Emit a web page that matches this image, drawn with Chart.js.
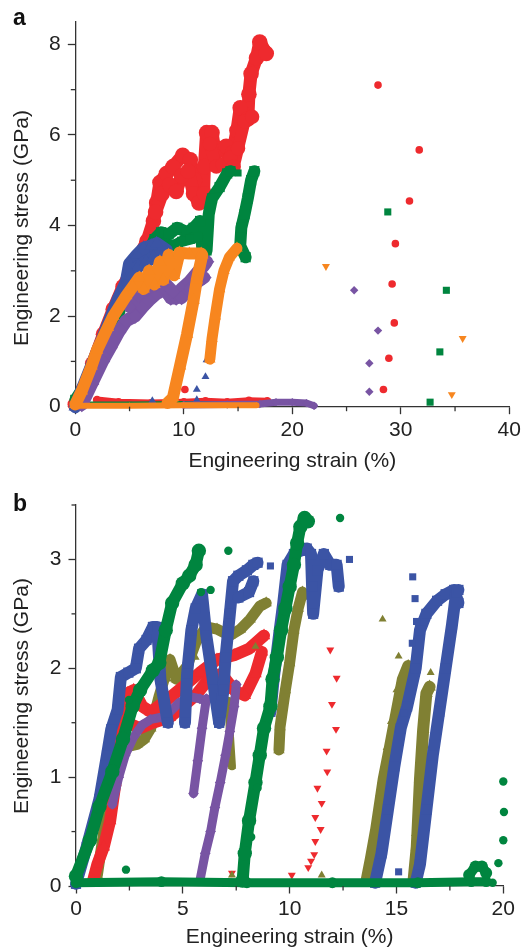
<!DOCTYPE html>
<html>
<head>
<meta charset="utf-8">
<script src="https://cdn.jsdelivr.net/npm/chart.js@4"></script>
<style>
body{margin:0;background:#fff;}
#wrap{position:relative;width:527px;height:951px;}
.panel{position:absolute;left:0;width:527px;}
.lab{position:absolute;left:13px;font:bold 23px "Liberation Sans",Arial,sans-serif;line-height:1;color:#111;}
</style>
</head>
<body>
<div id="wrap">
  <div class="panel" style="top:0;height:475px"><canvas id="chartA"></canvas></div>
  <div class="panel" style="top:475px;height:476px"><canvas id="chartB"></canvas></div>
  <div class="lab" style="top:6px">a</div>
  <div class="lab" style="top:492px">b</div>
</div>
<script>
const FONT = '"Liberation Sans", Arial, sans-serif';
const AXIS = '#333', TXT = '#222';
const RED = '#EE2A2E', GREEN = '#00853F', BLUE = '#3B54A5', ORANGE = '#F7861F', PURPLE = '#7854A3', OLIVE = '#808033';

// ---- panel a : strain (%) , stress (GPa)
const aXTicks = [0, 10, 20, 30, 40], aXMinor = [5, 15, 25, 35];
const aYTicks = [0, 2, 4, 6, 8], aYMinor = [1, 3, 5, 7];

const aRedLoad = [[0,0.05],[0.8,0.4],[1.6,0.95],[2.6,1.6],[3.5,2.15],[4.4,2.65],[5.4,3.1],[6.6,3.65],[7.2,4.1],[7.5,4.5],[7.8,4.95],[8.4,5.15],[9.0,5.3],[9.9,5.55],[10.6,5.45],[11.0,5.0],[11.3,4.65],[11.8,4.55],[11.9,5.3],[12.1,6.05],[12.6,6.05],[12.9,5.6],[13.3,5.7],[13.9,5.75],[14.2,5.3],[14.5,5.6],[14.9,6.1],[15.2,6.6],[15.9,6.35],[16.0,6.9],[16.2,7.35],[16.7,7.7],[17.0,8.05],[17.6,7.8]];
const aRedBlob = [[7.4,4.3],[8.0,4.7],[8.7,4.9],[9.3,4.75],[9.8,5.1],[10.4,5.2],[10.9,4.7],[11.4,4.5],[11.9,4.7]];
const aRedBlob2 = [[12.4,5.8],[13.0,5.3],[13.6,5.35],[14.3,5.5],[14.6,5.3],[15.0,5.7],[15.6,6.3],[16.3,6.4]];
const aRedBase = [[2.0,0.15],[4,0.1],[7,0.08],[10,0.1],[12,0.12],[14,0.1],[16,0.13],[17.7,0.12]];
const aRedPts = [[10.1,0.38],[27.9,7.1],[31.7,5.67],[30.8,4.54],[29.5,3.6],[29.2,2.71],[29.4,1.85],[28.9,1.07],[28.4,0.38]];

const aGreenLoad = [[0,0.15],[1.2,0.6],[2.3,1.1],[3.3,1.5],[4.3,2.3],[5.4,3.0],[6.6,3.35],[7.3,3.7],[7.9,3.85],[8.6,3.8],[9.4,3.95],[10.3,3.85],[10.9,3.95],[11.5,4.1],[11.7,3.5],[12.1,3.45],[12.3,4.25],[12.6,4.6],[13.3,4.85],[14.0,5.15],[14.3,5.2]];
const aGreenBlob = [[7.4,3.35],[8.2,3.6],[9.0,3.55],[9.8,3.65],[10.6,3.7],[11.3,3.75]];
const aGreenReload = [[15.7,3.3],[15.2,3.55],[15.3,3.95],[15.6,4.25],[15.9,4.6],[16.2,5.0],[16.5,5.2]];
const aGreenBase = [[0,0.05],[5,0.05],[10,0.06],[14,0.05]];
const aGreenPts = [[15.0,5.16],[28.8,4.3],[34.2,2.57],[33.6,1.21],[32.7,0.10]];

const aBlueLoad = [[0,0],[1.5,0.9],[3.0,1.8],[4.0,2.4],[4.7,2.75],[5.0,3.15],[5.7,3.35],[6.3,3.5],[7.0,3.55],[7.5,3.6],[8.4,3.45]];
const aBlueBlob = [[4.7,2.4],[5.2,2.9],[5.8,3.1],[6.5,3.2],[7.2,3.3],[7.9,3.3]];
const aBluePts = [[7.1,0.13],[11.2,0.38],[11.2,0.15],[12.0,0.66],[12.1,1.03]];

const aPurpleLoad = [[0.6,0.05],[1.5,0.5],[2.5,1.0],[3.2,1.3],[4.0,1.65],[4.7,1.9],[5.5,2.0],[6.2,2.2],[6.8,2.35],[7.5,2.5],[8.3,2.6],[8.8,2.4],[9.3,2.4],[9.8,2.6],[10.5,2.75],[11.2,2.95],[11.8,3.1],[12.1,3.2]];
const aPurpleBlob = [[5.0,2.2],[5.8,2.45],[6.6,2.6],[7.4,2.7],[8.2,2.75],[9.0,2.55],[9.8,2.4],[10.6,2.6],[11.3,2.75],[11.9,2.85]];
const aPurpleBase = [[10,0.04],[14,0.05],[17,0.06],[18.5,0.1],[20,0.1],[21.3,0.08],[22.0,0.02]];
const aPurplePts = [[25.7,2.57],[27.9,1.68],[27.1,0.96],[27.1,0.33]];

const aOrangeLoad = [[0,0.05],[0.6,0.35],[1.5,0.9],[2.0,1.25],[3.0,1.75],[3.5,2.0],[4.7,2.45],[5.3,2.65],[5.9,2.85],[6.3,2.6],[6.8,3.0],[7.3,2.7],[7.8,3.2],[8.1,2.8],[8.6,3.35],[9.1,2.9],[9.6,3.4],[10.5,3.38],[11.6,3.38]];
const aOrangeUnload = [[11.7,3.35],[11.2,2.8],[10.9,2.35],[10.3,1.6],[9.65,0.9],[9.0,0.2],[8.5,0.08]];
const aOrangeReload = [[12.4,1.05],[12.6,1.5],[12.9,2.0],[13.3,2.6],[13.7,3.0],[14.2,3.3],[14.9,3.5]];
const aOrangeBase = [[0,0.02],[5,0.02],[10,0.03],[16.7,0.03]];
const aOrangePts = [[23.1,3.1],[35.7,1.51],[34.7,0.27]];

// ---- panel b
const bXTicks = [0, 5, 10, 15, 20], bXMinor = [2.5, 7.5, 12.5, 17.5];
const bYTicks = [0, 1, 2, 3], bYMinor = [0.5, 1.5, 2.5, 3.5];

const bRedLoad = [[0.8,0.05],[1.0,0.2],[1.3,0.36],[1.6,0.6],[1.85,0.95],[2.05,1.3],[2.2,1.6],[2.4,1.77],[2.7,1.8],[3.1,1.65],[3.5,1.6],[4.2,1.7],[5.0,1.83],[5.8,1.96],[6.6,2.08],[7.4,2.12],[8.1,2.18],[8.8,2.3]];
const bRedBand = [[2.4,1.5],[3.0,1.45],[3.6,1.5],[4.4,1.55],[5.0,1.65],[5.6,1.75],[6.2,1.9],[6.8,1.95],[7.4,1.8],[7.9,1.75],[8.4,1.95],[8.7,2.15]];
const bRedPts = [[11.9,2.17],[12.2,1.91],[11.98,1.67],[12.17,1.44],[11.73,1.24],[11.76,1.05],[11.3,0.9],[11.5,0.76],[11.2,0.63],[11.45,0.52],[11.2,0.41],[11.15,0.29],[11.0,0.23],[10.87,0.17],[10.1,0.1],[7.3,0.12]];

const bOlive1 = [[1.0,0.1],[1.3,0.5],[1.6,0.98],[2.0,1.2],[2.4,1.28],[2.85,1.3],[3.2,1.35],[3.5,1.45],[3.9,1.75],[4.4,2.08],[4.7,1.9],[5.2,2.02],[5.65,2.26],[6.1,2.38],[6.6,2.36],[7.2,2.3],[7.7,2.36],[8.15,2.45],[8.6,2.57],[8.9,2.6]];
const bOlive2 = [[9.5,1.25],[9.55,1.46],[9.8,1.8],[10.0,2.05],[10.2,2.35],[10.4,2.55],[10.6,2.7]];
const bOlive3 = [[7.3,1.1],[7.2,1.4],[7.15,1.7]];
const bOlive4 = [[13.6,0.05],[13.8,0.25],[14.05,0.52],[14.4,0.98],[14.7,1.28],[15.0,1.59],[15.3,1.9],[15.55,2.02]];
const bOlive5 = [[15.8,0.05],[15.95,0.36],[16.1,0.98],[16.25,1.44],[16.4,1.77],[16.55,1.83]];
const bOlivePts = [[14.35,2.45],[15.1,2.11],[15.0,1.8],[14.74,1.51],[14.54,1.27],[14.46,1.04],[14.2,0.85],[14.15,0.68],[13.9,0.39],[13.76,0.18],[11.5,0.1],[16.6,1.96],[16.0,0.67],[15.87,0.48],[10.7,2.65],[7.3,0.1],[4.3,1.9],[5.6,2.1],[8.4,2.2]];

const bPurple1 = [[1.7,0.75],[2.0,1.0],[2.3,1.2],[2.7,1.37],[3.1,1.48],[3.5,1.53],[4.0,1.55],[4.4,1.6],[4.8,1.68],[5.3,1.74],[5.8,1.72],[6.1,1.7]];
const bPurple2 = [[6.1,1.72],[5.9,1.45],[5.7,1.15],[5.5,0.85]];
const bPurple3 = [[5.8,0.05],[6.05,0.3],[6.3,0.5],[6.5,0.72],[6.75,0.95],[7.0,1.2],[7.2,1.42],[7.4,1.65],[7.5,1.85]];

const bBlue1 = [[0,0.02],[0.5,0.36],[1.1,0.8],[1.45,1.2],[1.65,1.44],[1.95,1.62],[2.1,1.92],[2.45,1.96],[2.8,2.0],[2.95,2.18],[3.3,2.26],[3.6,2.38],[3.8,2.38],[3.95,1.9],[4.3,1.5]];
const bBlue2 = [[5.1,1.5],[5.2,1.95],[5.4,2.35],[5.6,2.55],[5.9,2.68],[6.1,2.3],[6.4,1.9],[6.7,1.5]];
const bBlue3 = [[6.7,1.5],[6.9,1.8],[7.0,2.1],[7.2,2.5],[7.35,2.8],[7.6,2.85],[8.0,2.9],[8.3,2.95],[8.5,2.97]];
const bBlue3b = [[7.6,2.65],[8.1,2.7],[8.3,2.8]];
const bBlue4 = [[9.1,1.6],[9.25,1.9],[9.5,2.3],[9.7,2.6],[9.9,2.95],[10.2,3.05],[10.5,3.08],[10.8,3.1],[11.0,3.05],[11.05,2.75],[11.1,2.5],[11.3,2.9],[11.6,3.05],[11.9,2.95],[12.2,2.95],[12.3,2.75]];
const bBlue5 = [[14.0,0.03],[14.3,0.3],[14.6,0.7],[14.9,1.1],[15.2,1.45],[15.5,1.65],[15.9,2.0],[16.1,2.35],[16.4,2.5],[16.9,2.62],[17.3,2.68],[17.7,2.72],[17.9,2.6]];
const bBlue6 = [[15.9,0.03],[16.1,0.2],[16.4,0.7],[16.7,1.2],[17.0,1.6],[17.3,2.0],[17.6,2.4],[17.8,2.7],[17.9,2.72]];
const bBluePts = [[9.1,2.94],[12.8,3.0],[15.76,2.84],[15.87,2.64],[15.94,2.43],[15.74,2.23],[15.35,1.59],[15.1,0.13]];

const bGreen1 = [[0,0.09],[0.65,0.42],[1.1,0.73],[1.7,1.05],[2.2,1.35],[2.65,1.65],[3.0,1.8],[3.6,1.98],[3.9,2.05],[4.2,2.35],[4.5,2.6],[5.0,2.78],[5.3,2.85],[5.6,2.95],[5.75,3.08]];
const bGreen2 = [[7.8,0.05],[7.9,0.3],[8.1,0.6],[8.4,0.95],[8.6,1.2],[8.8,1.45],[9.1,1.65],[9.2,1.9],[9.4,2.1],[9.6,2.35],[9.8,2.55],[10.0,2.75],[10.2,2.95],[10.35,3.15],[10.5,3.3],[10.7,3.38],[10.85,3.35]];
const bGreenBase = [[0,0.03],[4,0.04],[8,0.03],[12,0.03],[16,0.03],[18.5,0.04],[19.2,0.04]];
const bGreenBlob = [[18.4,0.1],[18.7,0.18],[19.0,0.18],[19.2,0.12]];
const bGreenPts = [[7.13,3.08],[2.34,0.15],[2.48,1.71],[12.36,3.38],[20.0,0.96],[20.03,0.68],[20.0,0.42],[19.77,0.21],[19.5,0.03],[6.3,2.72],[5.85,2.7],[1.4,0.9],[8.5,0.9],[8.2,0.45]];

function pts(arr) { return arr.map(([x, y]) => ({ x, y })); }

function band(arr, color, w, style) {
  return {
    data: pts(arr), showLine: true, borderColor: color, borderWidth: w,
    borderCapStyle: 'round', borderJoinStyle: 'round', tension: 0,
    pointRadius: w * 0.6, pointStyle: style, pointBackgroundColor: color, pointBorderWidth: 0,
    clip: false
  };
}

function marks(arr, color, style, r, rot) {
  return {
    data: pts(arr), showLine: false, pointStyle: style, pointRadius: r, pointRotation: rot || 0,
    pointBackgroundColor: color, pointBorderWidth: 0, clip: false
  };
}

// minor ticks are drawn with the chart's own scales
const minorTicks = {
  id: 'minorTicks',
  afterDraw(chart, args, o) {
    const ctx = chart.ctx, area = chart.chartArea;
    ctx.save();
    ctx.strokeStyle = AXIS; ctx.lineWidth = 1.3;
    o.x.forEach(v => {
      const p = chart.scales.x.getPixelForValue(v);
      ctx.beginPath(); ctx.moveTo(p, area.bottom); ctx.lineTo(p, area.bottom + 4.5); ctx.stroke();
    });
    o.y.forEach(v => {
      const p = chart.scales.y.getPixelForValue(v);
      ctx.beginPath(); ctx.moveTo(area.left, p); ctx.lineTo(area.left - 4.5, p); ctx.stroke();
    });
    ctx.restore();
  }
};

const yTitle = {
  id: 'yTitle',
  afterDraw(chart, args, o) {
    const ctx = chart.ctx;
    ctx.save();
    ctx.translate(o.x, o.y); ctx.rotate(-Math.PI / 2);
    ctx.font = '21px ' + FONT; ctx.fillStyle = TXT;
    ctx.textAlign = 'center'; ctx.textBaseline = 'middle';
    ctx.fillText(o.text, 0, 0);
    ctx.restore();
  }
};

function makeOptions(c) {
  const tickFont = { family: FONT, size: 21 };
  return {
    responsive: true, maintainAspectRatio: false, animation: false,
    layout: { padding: c.pad },
    plugins: {
      legend: { display: false }, tooltip: { enabled: false },
      minorTicks: { x: c.xMinor, y: c.yMinor },
      yTitle: { text: 'Engineering stress (GPa)', x: 22, y: c.yTitleY }
    },
    scales: {
      x: {
        type: 'linear', min: 0, max: c.xMax,
        afterBuildTicks: s => { s.ticks = c.xTicks.map(v => ({ value: v })); },
        afterFit: s => { s.height = c.xH; },
        grid: { drawOnChartArea: false, tickLength: 7.5, tickWidth: 1.3, tickColor: AXIS },
        border: { color: AXIS, width: 1.3 },
        ticks: { font: tickFont, color: TXT, padding: 3, maxRotation: 0, autoSkip: false },
        title: { display: true, text: 'Engineering strain (%)', font: tickFont, color: TXT, padding: { top: 0, bottom: 1 } }
      },
      y: {
        type: 'linear', min: 0, max: c.yMax,
        afterBuildTicks: s => { s.ticks = c.yTicks.map(v => ({ value: v })); },
        afterFit: s => { s.width = c.yW; },
        grid: { drawOnChartArea: false, tickLength: 7.5, tickWidth: 1.3, tickColor: AXIS },
        border: { color: AXIS, width: 1.3 },
        ticks: { font: tickFont, color: TXT, padding: 7, autoSkip: false }
      }
    }
  };
}

// bottom layer first, then reversed so the last one is drawn on top
const aSets = [
  band(aRedBase, RED, 7, 'circle'),
  band(aRedLoad, RED, 13, 'circle'),
  band(aRedBlob, RED, 13, 'circle'),
  band(aRedBlob2, RED, 12, 'circle'),
  marks(aRedPts, RED, 'circle', 3.8),
  band(aGreenBase, GREEN, 6, 'rect'),
  band(aGreenLoad, GREEN, 12, 'rect'),
  band(aGreenBlob, GREEN, 11, 'rect'),
  band(aGreenReload, GREEN, 12, 'rect'),
  marks(aGreenPts, GREEN, 'rect', 5),
  band(aBlueLoad, BLUE, 13, 'triangle'),
  band(aBlueBlob, BLUE, 13, 'triangle'),
  marks(aBluePts, BLUE, 'triangle', 4.6),
  band(aPurpleBase, PURPLE, 7, 'rectRot'),
  band(aPurpleLoad, PURPLE, 13, 'rectRot'),
  band(aPurpleBlob, PURPLE, 12, 'rectRot'),
  marks(aPurplePts, PURPLE, 'rectRot', 4.2),
  band(aOrangeBase, ORANGE, 6, 'triangle'),
  band(aOrangeLoad, ORANGE, 12, 'triangle'),
  band(aOrangeUnload, ORANGE, 12, 'triangle'),
  band(aOrangeReload, ORANGE, 11, 'triangle'),
  marks(aOrangePts, ORANGE, 'triangle', 4.6, 180)
].reverse();

const bSets = [
  band(bOlive1, OLIVE, 11, 'triangle'),
  band(bOlive2, OLIVE, 11, 'triangle'),
  band(bOlive3, OLIVE, 8, 'triangle'),
  band(bOlive4, OLIVE, 12, 'triangle'),
  band(bOlive5, OLIVE, 12, 'triangle'),
  band(bRedLoad, RED, 12, 'triangle'),
  band(bRedBand, RED, 12, 'triangle'),
  marks(bRedPts, RED, 'triangle', 4.6, 180),
  marks(bOlivePts, OLIVE, 'triangle', 4.6),
  band(bPurple1, PURPLE, 9, 'rectRot'),
  band(bPurple2, PURPLE, 9, 'rectRot'),
  band(bPurple3, PURPLE, 9, 'rectRot'),
  band(bBlue1, BLUE, 12, 'rect'),
  band(bBlue2, BLUE, 12, 'rect'),
  band(bBlue3, BLUE, 12, 'rect'),
  band(bBlue3b, BLUE, 12, 'rect'),
  band(bBlue4, BLUE, 12, 'rect'),
  band(bBlue5, BLUE, 12, 'rect'),
  band(bBlue6, BLUE, 12, 'rect'),
  marks(bBluePts, BLUE, 'rect', 5),
  band(bGreenBase, GREEN, 9, 'circle'),
  band(bGreenBlob, GREEN, 10, 'circle'),
  band(bGreen1, GREEN, 12, 'circle'),
  band(bGreen2, GREEN, 12, 'circle'),
  marks(bGreenPts, GREEN, 'circle', 4.2)
].reverse();

new Chart(document.getElementById('chartA'), {
  type: 'scatter',
  data: { datasets: aSets },
  options: makeOptions({
    pad: { top: 21.7, right: 17.7, left: 0, bottom: 0 },
    xMax: 40, xTicks: aXTicks, xMinor: aXMinor, xH: 68.3,
    yMax: 8.5, yTicks: aYTicks, yMinor: aYMinor, yW: 75.3, yTitleY: 228
  }),
  plugins: [minorTicks, yTitle]
});

new Chart(document.getElementById('chartB'), {
  type: 'scatter',
  data: { datasets: bSets },
  options: makeOptions({
    pad: { top: 30, right: 23.7, left: 0, bottom: 0 },
    xMax: 20, xTicks: bXTicks, xMinor: bXMinor, xH: 65,
    yMax: 3.5, yTicks: bYTicks, yMinor: bYMinor, yW: 76, yTitleY: 221
  }),
  plugins: [minorTicks, yTitle]
});
</script>
</body>
</html>
